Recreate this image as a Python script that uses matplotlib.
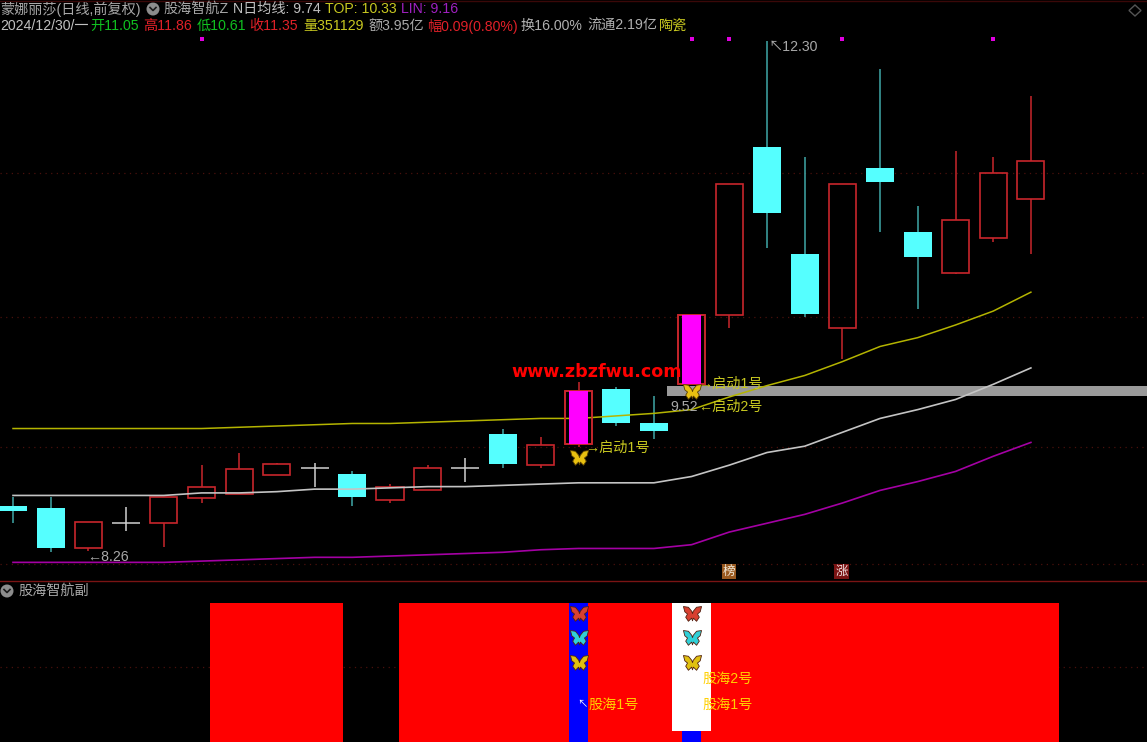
import matplotlib
matplotlib.use('Agg')
import matplotlib.pyplot as plt
from matplotlib.path import Path
from matplotlib.patches import Circle, Rectangle, Polygon

W, H = 1147, 742
FONT = ['Liberation Sans', 'Noto Sans CJK SC', 'DejaVu Sans']
plt.rcParams['font.family'] = FONT

# daily candles
opens = [8.62, 8.60, 8.28, 8.48, 8.48, 8.68, 8.71, 8.86, 8.92, 8.87, 8.66, 8.74, 8.92, 9.19,
         8.94, 9.11, 9.54, 9.27, 9.58, 10.13, 11.46, 10.61, 10.03, 11.29, 10.79, 10.46, 10.74, 11.05]
closes = [8.58, 8.28, 8.49, 8.48, 8.69, 8.77, 8.91, 8.95, 8.92, 8.69, 8.77, 8.92, 8.92, 8.95,
          9.10, 9.53, 9.27, 9.21, 10.13, 11.17, 10.94, 10.14, 11.17, 11.18, 10.59, 10.88, 11.25, 11.35]
highs = [8.69, 8.69, 8.49, 8.61, 8.69, 8.94, 9.04, 8.96, 8.96, 8.89, 8.79, 8.94, 9.00, 9.23,
         9.16, 9.60, 9.56, 9.49, 10.13, 11.17, 12.30, 11.38, 11.17, 12.08, 10.99, 11.43, 11.38, 11.86]
lows = [8.48, 8.25, 8.26, 8.42, 8.29, 8.64, 8.71, 8.86, 8.77, 8.62, 8.64, 8.74, 8.81, 8.92,
        8.92, 9.08, 9.25, 9.15, 9.58, 10.03, 10.66, 10.11, 9.78, 10.79, 10.18, 10.45, 10.71, 10.61]

# moving lines
line_top = [9.23, 9.23, 9.23, 9.23, 9.23, 9.23, 9.24, 9.25, 9.26, 9.27, 9.27, 9.28, 9.29, 9.30,
            9.31, 9.31, 9.33, 9.35, 9.38, 9.48, 9.57, 9.65, 9.76, 9.88, 9.95, 10.05, 10.16, 10.31]
line_mid = [8.70, 8.70, 8.70, 8.70, 8.70, 8.72, 8.72, 8.73, 8.75, 8.75, 8.76, 8.77, 8.77, 8.78,
            8.79, 8.80, 8.80, 8.80, 8.85, 8.94, 9.04, 9.09, 9.20, 9.31, 9.38, 9.46, 9.58, 9.71]
line_low = [8.17, 8.17, 8.17, 8.17, 8.17, 8.18, 8.19, 8.20, 8.21, 8.21, 8.22, 8.23, 8.24, 8.25,
            8.27, 8.28, 8.28, 8.28, 8.31, 8.41, 8.48, 8.55, 8.64, 8.74, 8.81, 8.89, 9.01, 9.12]

grid_prices = [11.25, 10.11, 9.08, 8.16]
signal_days = [15, 18]
signal_prices = [9.00, 9.52]
dot_days = [5, 18, 19, 22, 26]
dot_price = 12.315

# lower panel
red_starts = [5.225, 10.24]
red_ends = [8.753, 27.75]
butterfly_levels = [0.92, 0.75, 0.57]
butterfly_colors = ['#d84030', '#30d0d8', '#e0c010']

RED = '#c8262c'
CYAN = '#55ffff'
CYAN_WICK = '#3fa8a8'
WHITE = '#d0d0d0'
GRID = '#4a100c'
YEL_TXT = '#c8c820'
GRAY_TXT = '#a8a8a8'
GREEN_TXT = '#10c020'
RED_TXT = '#e02028'

# butterfly marker
right = [(0.08, 0.35), (0.45, 0.8), (1, 0.88), (0.85, 0.3), (0.55, 0.05), (0.75, -0.3),
         (0.45, -0.75), (0.1, -0.4), (0, -0.7)]
left = [(-x, y) for x, y in reversed(right[:-1])]
verts = [(0, 0.1)] + right + left + [(0, 0.1)]
BUTTERFLY = Path(verts, closed=True)

fig = plt.figure(figsize=(W / 100, H / 100), dpi=100, facecolor='black')
x_lim = (-13 / 37.7, (W - 13) / 37.7)

# main panel: px y 0..581
ax = fig.add_axes([0, 1 - 581 / H, 1, 581 / H], facecolor='black')
ax.set_xlim(*x_lim)
ax.set_ylim(8.26 + (551 - 581) * 0.00792, 8.26 + 551 * 0.00792)
ax.axis('off')

for p in grid_prices:
    ax.axhline(p, color=GRID, lw=0.9, ls=(0, (1, 3.5)), zorder=1)

ax.fill_between([17.36, x_lim[1]], 9.49, 9.57, color='#9a9a9a', lw=0, zorder=1.5)

for i in range(len(opens)):
    o, c, h, l = opens[i], closes[i], highs[i], lows[i]
    top, bot = max(o, c), min(o, c)
    if o == c:
        ax.vlines(i, l, h, color=WHITE, lw=1.1, zorder=2)
        ax.hlines(o, i - 0.37, i + 0.37, color=WHITE, lw=1.1, zorder=2)
    elif c > o:
        ax.vlines(i, top, h, color=RED, lw=1.1, zorder=2)
        ax.vlines(i, l, bot, color=RED, lw=1.1, zorder=2)
        ax.bar(i, top - bot, 0.72, bot, facecolor='none', edgecolor=RED, lw=1.2, zorder=2)
    else:
        ax.vlines(i, l, h, color=CYAN_WICK, lw=1.1, zorder=2)
        ax.bar(i, top - bot, 0.75, bot, color=CYAN, lw=0, zorder=2)

ax.plot(line_top, color='#b4b400', lw=1.1, zorder=3)
ax.plot(line_mid, color='#c4c4c4', lw=1.2, zorder=3)
ax.plot(line_low, color='#a400a4', lw=1.2, zorder=3)

# signal candles, magenta over the lines
for i in signal_days:
    top, bot = max(opens[i], closes[i]), min(opens[i], closes[i])
    ax.bar(i, top - bot, 0.72, bot, facecolor='none', edgecolor=RED, lw=1.2, zorder=4)
    ax.bar(i, top - bot, 0.52, bot, color='#ff00ff', lw=0, zorder=4)

ax.scatter(dot_days, [dot_price] * len(dot_days), marker='s', s=8, color='#e000e0', lw=0, zorder=5)
ax.scatter(signal_days, signal_prices, marker=BUTTERFLY, s=170, color='#e8c010',
           edgecolor='#5a4000', lw=0.6, zorder=6)

# lower panel: px y 581..742
ax2 = fig.add_axes([0, 0, 1, 161 / H], facecolor='black')
ax2.set_xlim(*x_lim)
ax2.set_ylim(0, 161 / 139)
ax2.axis('off')
ax2.axhline(0.54, color=GRID, lw=0.9, ls=(0, (1, 3.5)), zorder=1)
for s, e in zip(red_starts, red_ends):
    ax2.bar(s, 1, e - s, align='edge', color='#ff0000', lw=0, zorder=2)
ax2.bar(signal_days, [1, 1], 0.5, color='#0000ff', lw=0, zorder=3)
ax2.bar(18, 0.92, 1.02, 0.08, color='#ffffff', lw=0, zorder=4)
for lev, col in zip(butterfly_levels, butterfly_colors):
    ax2.scatter(signal_days, [lev, lev], marker=BUTTERFLY, s=170, color=col,
                edgecolor='#502010', lw=0.6, zorder=5)

# overlay in pixels for labels and icons
ov = fig.add_axes([0, 0, 1, 1], facecolor='none')
ov.set_xlim(0, W)
ov.set_ylim(H, 0)
ov.axis('off')
ov.axhline(581, color='#7a1414', lw=1.0)
ov.axhline(0.5, color='#3a0808', lw=1.0)


def label(x, y, s, color, size=10.2):
    ov.text(x, y, s, color=color, fontsize=size, va='center', ha='left', family=FONT, zorder=10)


def icon(x, y):
    ov.add_patch(Circle((x, y), 6.5, color='#8c8c8c', lw=0))
    ov.plot([x - 3, x, x + 3], [y - 1.5, y + 1.5, y - 1.5], color='#1a1a1a', lw=1.2)


label(0, 9, '蒙娜丽莎(日线,前复权)', GRAY_TXT)
icon(153, 9)
label(163, 9, '股海智航Z', GRAY_TXT)
label(233, 9, 'N日均线: 9.74', '#c0c0c0')
label(325, 9, 'TOP: 10.33', YEL_TXT)
label(401, 9, 'LIN: 9.16', '#a020c0')

label(0, 26, '2024/12/30/一', '#c0c0c0')
label(90, 26, '开11.05', GREEN_TXT)
label(143, 26, '高11.86', RED_TXT)
label(197, 26, '低10.61', GREEN_TXT)
label(249, 26, '收11.35', RED_TXT)
label(303, 26, '量351129', YEL_TXT)
label(368, 26, '额3.95亿', GRAY_TXT)
label(427, 26, '幅0.09(0.80%)', RED_TXT)
label(521, 26, '换16.00%', '#b0b0b0')
label(587, 26, '流通2.19亿', '#b0b0b0')
label(659, 26, '陶瓷', YEL_TXT)

label(18, 591, '股海智航副', GRAY_TXT)
icon(7, 591)

label(769, 47, '↖12.30', GRAY_TXT)
label(87, 557, '←8.26', GRAY_TXT)
label(585, 448, '→启动1号', YEL_TXT)
label(698, 384, '→启动1号', YEL_TXT)
label(670, 407, '9.52', GRAY_TXT)
label(698, 407, '←启动2号', YEL_TXT)
label(577, 704, '↖', '#ffffff', size=7.5)
label(588, 705, '股海1号', '#ffd000')
label(702, 679, '股海2号', '#ffd000')
label(702, 705, '股海1号', '#ffd000')

ov.text(597, 372, 'www.zbzfwu.com', color='#ff0000', fontsize=12.6, fontweight='bold',
        family='DejaVu Sans', ha='center', va='center', zorder=11)

ov.add_patch(Polygon([(1135, 5), (1141, 10.5), (1135, 16), (1129, 10.5)], fill=False, edgecolor='#555555', lw=1))
ov.add_patch(Rectangle((722, 564), 14, 15, color='#9a5a20', lw=0))
ov.add_patch(Rectangle((834, 564), 15, 15, color='#7a1414', lw=0))
ov.text(729, 571.5, '榜', color='#f0e8d8', fontsize=9, ha='center', va='center', family=FONT, zorder=10)
ov.text(841.5, 571.5, '涨', color='#f0e0e0', fontsize=9, ha='center', va='center', family=FONT, zorder=10)

fig.savefig('out.png', dpi=100, facecolor='black')
